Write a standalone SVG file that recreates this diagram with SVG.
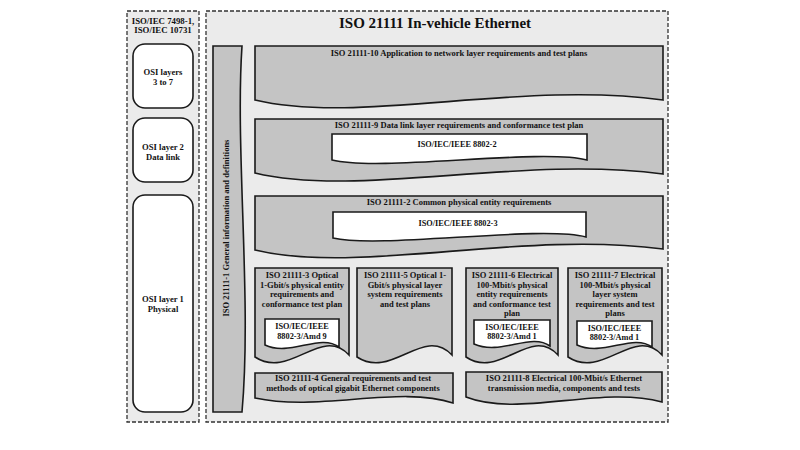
<svg xmlns="http://www.w3.org/2000/svg" width="800" height="450" viewBox="0 0 800 450">
<style>
.cont{fill:#ebebeb;stroke:#333;stroke-width:1.3;stroke-dasharray:4 2}
.g{fill:#c4c4c4;stroke:#1a1a1a;stroke-width:1.6}
.w{fill:#fff;stroke:#1a1a1a;stroke-width:1.6}
.osi{fill:#fff;stroke:#1a1a1a;stroke-width:1.6}
text{font-family:"Liberation Serif","Times New Roman",serif;font-weight:bold;fill:#111;text-anchor:middle;font-size:8.5px}
.title{font-size:15px}
.hdr{font-size:8.8px}
.osit{font-size:8.6px}
.inn{font-size:8.3px}
</style>
<rect width="800" height="450" fill="#fff"/>
<g id="osi-column">
<rect class="cont" x="127" y="11" width="72" height="411"/>
<text class="hdr" x="163" y="24">ISO/IEC 7498-1,</text>
<text class="hdr" x="163" y="32.5">ISO/IEC 10731</text>
</g>
<g id="osi-3-7">
<rect class="osi" x="133" y="44" width="60" height="64" rx="12"/>
<text class="osit" x="163" y="75">OSI layers</text>
<text class="osit" x="163" y="85">3 to 7</text>
</g>
<g id="osi-2">
<rect class="osi" x="133" y="118" width="60" height="64" rx="12"/>
<text class="osit" x="163" y="150">OSI layer 2</text>
<text class="osit" x="163" y="160">Data link</text>
</g>
<g id="osi-1">
<rect class="osi" x="133" y="195" width="60" height="217" rx="12"/>
<text class="osit" x="163" y="302">OSI layer 1</text>
<text class="osit" x="163" y="312">Physical</text>
</g>
<g id="iso21111">
<rect class="cont" x="206" y="11" width="462" height="411"/>
<text class="title" x="435" y="28">ISO 21111 In-vehicle Ethernet</text>
</g>
<g id="part1">
<path class="g" d="M213,46 H242 C235,150 252,300 242,412 H213 Z"/>
<text transform="translate(228.5,228) rotate(-90)">ISO 21111-1 General information and definitions</text>
</g>
<g id="part10">
<path class="g" d="M255,46 H663 V100 C520,80 360,125 255,100 Z"/>
<text x="459" y="56">ISO 21111-10 Application to network layer requirements and test plans</text>
</g>
<g id="part9">
<path class="g" d="M255,119 H663 V174 C520,155 360,198 255,173 Z"/>
<text x="459" y="128">ISO 21111-9 Data link layer requirements and conformance test plan</text>
<path class="w" d="M332,134 H587 V160 C540,148 380,172 332,160 Z"/>
<text class="inn" x="457" y="147">ISO/IEC/IEEE 8802-2</text>
</g>
<g id="part2">
<path class="g" d="M255,196 H663 V249 C520,230 360,275 255,250 Z"/>
<text x="459" y="205">ISO 21111-2 Common physical entity requirements</text>
<path class="w" d="M333,212 H586 V237 C540,225 380,249 333,238 Z"/>
<text class="inn" x="458" y="226">ISO/IEC/IEEE 8802-3</text>
</g>
<g id="part3">
<path class="g" d="M255,268 H349 V355 C321,325 290,380 255,357 Z"/>
<text x="302" y="278">ISO 21111-3 Optical</text>
<text x="302" y="287.5">1-Gbit/s physical entity</text>
<text x="302" y="297">requirements and</text>
<text x="302" y="306.5">conformance test plan</text>
<path class="w" d="M265,319 H339 V347 C320,333 290,357 265,345 Z"/>
<text class="inn" x="302" y="329">ISO/IEC/IEEE</text>
<text class="inn" x="302" y="338.5">8802-3/Amd 9</text>
</g>
<g id="part5">
<path class="g" d="M357,268 H452 V355 C423,325 392,380 357,357 Z"/>
<text x="405" y="278">ISO 21111-5 Optical 1-</text>
<text x="405" y="287.5">Gbit/s physical layer</text>
<text x="405" y="297">system requirements</text>
<text x="405" y="306.5">and test plans</text>
</g>
<g id="part6">
<path class="g" d="M466,268 H558 V355 C530,325 500,380 466,357 Z"/>
<text x="512" y="278">ISO 21111-6 Electrical</text>
<text x="512" y="287.5">100-Mbit/s physical</text>
<text x="512" y="297">entity requirements</text>
<text x="512" y="306.5">and conformance test</text>
<text x="512" y="316">plan</text>
<path class="w" d="M474,320 H550 V346 C531,332 501,356 474,344 Z"/>
<text class="inn" x="512" y="329.5">ISO/IEC/IEEE</text>
<text class="inn" x="512" y="339">8802-3/Amd 1</text>
</g>
<g id="part7">
<path class="g" d="M568,268 H662 V355 C634,325 603,380 568,357 Z"/>
<text x="615" y="278">ISO 21111-7 Electrical</text>
<text x="615" y="287.5">100-Mbit/s physical</text>
<text x="615" y="297">layer system</text>
<text x="615" y="306.5">requirements and test</text>
<text x="615" y="316">plans</text>
<path class="w" d="M577,321 H652 V347 C633,333 603,357 577,345 Z"/>
<text class="inn" x="614.5" y="330.5">ISO/IEC/IEEE</text>
<text class="inn" x="614.5" y="340">8802-3/Amd 1</text>
</g>
<g id="part4">
<path class="g" d="M255,373 H453 V403 C400,385 320,412 255,398 Z"/>
<text x="353" y="381">ISO 21111-4 General requirements and test</text>
<text x="353" y="391">methods of optical gigabit Ethernet components</text>
</g>
<g id="part8">
<path class="g" d="M466,372 H662 V402 C600,385 520,418 466,397 Z"/>
<text x="564" y="381">ISO 21111-8 Electrical 100-Mbit/s Ethernet</text>
<text x="564" y="390.5">transmission media, components and tests</text>
</g>
<g id="connectors"></g>
</svg>
